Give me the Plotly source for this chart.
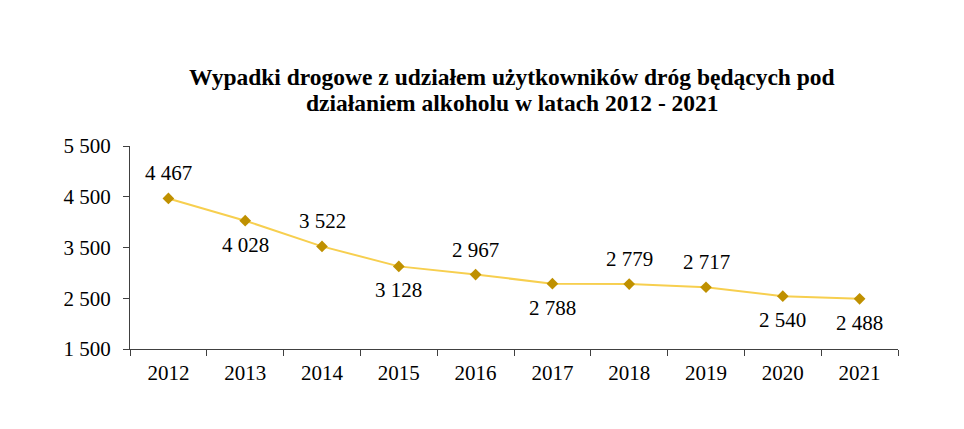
import plotly.graph_objects as go

years = ["2012", "2013", "2014", "2015", "2016", "2017", "2018", "2019", "2020", "2021"]
accidents = [4467, 4028, 3522, 3128, 2967, 2788, 2779, 2717, 2540, 2488]
label_side = ["above", "below", "above", "below", "above", "below", "above", "above", "below", "below"]
y_ticks = [1500, 2500, 3500, 4500, 5500]
title_lines = ["Wypadki drogowe z udziałem użytkowników dróg będących pod",
               "działaniem alkoholu w latach 2012 - 2021"]

FONT = "Liberation Serif, Times New Roman, serif"

def fmt(v):
    return f"{v:,}".replace(",", " ")

fig = go.Figure()
fig.add_trace(go.Scatter(
    x=years, y=accidents, mode="lines+markers",
    line=dict(color="#F7CF4F", width=2),
    marker=dict(symbol="diamond", size=9, color="#BF9000"),
    hoverinfo="skip", showlegend=False,
))

for i, (y, side) in enumerate(zip(accidents, label_side)):
    fig.add_annotation(x=i, y=y, xref="x", yref="y", text=fmt(y), showarrow=False,
                       yshift=25 if side == "above" else -24,
                       font=dict(family=FONT, size=21, color="#000"))

for line, ypos in zip(title_lines, [1.34, 1.212]):
    fig.add_annotation(x=0.498, y=ypos, xref="paper", yref="paper", text=f"<b>{line}</b>",
                       showarrow=False, xanchor="center", yanchor="middle",
                       font=dict(family=FONT, size=23.5, color="#000"))

fig.update_layout(
    width=956, height=421,
    margin=dict(l=122, r=66, t=138, b=80),
    paper_bgcolor="white", plot_bgcolor="white",
    font=dict(family=FONT, size=21, color="#000"),
    xaxis=dict(
        type="category", showgrid=False, showline=True, linecolor="#404040", linewidth=1,
        ticks="outside", ticklen=6, tickcolor="#404040", tickson="boundaries",
        tickfont=dict(family=FONT, size=21), range=[-0.5, 9.5], ticklabelstandoff=5,
    ),
    yaxis=dict(
        range=[1500, 5500], tickvals=y_ticks,
        ticktext=[fmt(v) for v in y_ticks],
        showgrid=False, showline=True, linecolor="#404040", linewidth=1,
        ticks="outside", ticklen=6, tickcolor="#404040", zeroline=False,
        tickfont=dict(family=FONT, size=21), ticklabelstandoff=8,
    ),
)

fig.write_html("out.html")
